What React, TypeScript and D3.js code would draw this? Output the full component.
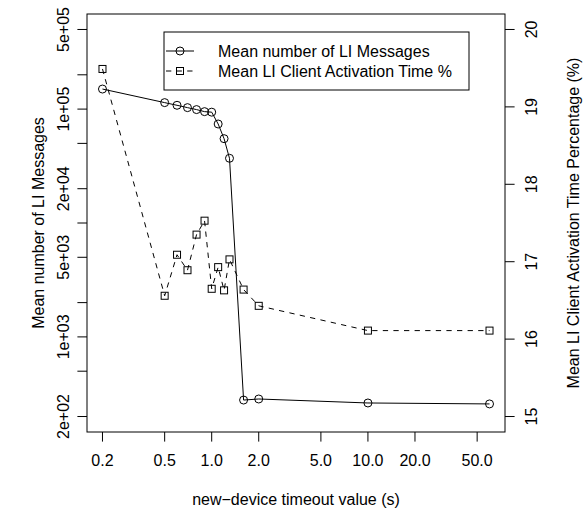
import React from "react";
import { scaleLog, scaleLinear, line } from "d3";

// new-device timeout (s)
const timeouts = [0.2, 0.5, 0.6, 0.7, 0.8, 0.9, 1.0, 1.1, 1.2, 1.3, 1.6, 2.0, 10, 60];
// mean number of LI messages (left, log axis)
const liMessages = [150000, 114000, 108000, 103000, 99000, 95000, 94000, 74000, 55000, 37000, 279, 285, 263, 258];
// mean LI client activation time % (right axis)
const activationPct = [19.49, 16.56, 17.09, 16.89, 17.35, 17.53, 16.65, 16.93, 16.63, 17.03, 16.64, 16.43, 16.11, 16.11];

const xTicks = [0.2, 0.5, 1, 2, 5, 10, 20, 50];
const leftTicks = [200, 500, 1000, 2000, 5000, 10000, 20000, 50000, 100000, 200000, 500000];
const leftLabelled = [200, 1000, 5000, 20000, 100000, 500000];
const rightTicks = [15, 16, 17, 18, 19, 20];

const seriesNames = ["Mean number of LI Messages", "Mean LI Client Activation Time %"];

const W = 584;
const H = 513;
const box = { left: 87, right: 505, top: 14, bottom: 432 };
const font = "'Liberation Sans', Arial, sans-serif";

// R-style 4% padding, in log space for log axes
const padLog = (a: number, b: number) => {
  const la = Math.log10(a), lb = Math.log10(b), d = (lb - la) * 0.04;
  return [Math.pow(10, la - d), Math.pow(10, lb + d)];
};
const padLin = (a: number, b: number) => {
  const d = (b - a) * 0.04;
  return [a - d, b + d];
};

const fmtExp = (v: number) => v.toExponential(0).replace(/e([+-])(\d)$/, "e$10$2");
const fmtX = (v: number) => v.toFixed(1);

export default function App() {
  const x = scaleLog().domain(padLog(0.2, 60)).range([box.left, box.right]);
  const yL = scaleLog().domain(padLog(200, 500000)).range([box.bottom, box.top]);
  const yR = scaleLinear().domain(padLin(15, 20)).range([box.bottom, box.top]);

  const pts1 = timeouts.map((t, i) => [x(t), yL(liMessages[i])] as [number, number]);
  const pts2 = timeouts.map((t, i) => [x(t), yR(activationPct[i])] as [number, number]);
  const path = line();

  const sq = 7;
  const dash = "5.3,5.3";

  const legX = 164, legY = 32, legW = 305, legH = 58;
  const rows = [legY + 19, legY + 39];

  return (
    <svg width={W} height={H} style={{ position: "absolute", left: 0, top: 0, background: "#fff" }}
      fontFamily={font} fontSize={16}>
      <rect x={0} y={0} width={W} height={H} fill="#fff" />

      {/* series */}
      <path d={path(pts1) || ""} fill="none" stroke="#000" strokeWidth={1} />
      <path d={path(pts2) || ""} fill="none" stroke="#000" strokeWidth={1} strokeDasharray={dash} />
      {pts1.map((p, i) => (
        <circle key={"c" + i} cx={p[0]} cy={p[1]} r={4} fill="none" stroke="#000" strokeWidth={1} />
      ))}
      {pts2.map((p, i) => (
        <rect key={"s" + i} x={p[0] - sq / 2} y={p[1] - sq / 2} width={sq} height={sq} fill="none" stroke="#000" strokeWidth={1} />
      ))}

      {/* plot box */}
      <rect x={box.left} y={box.top} width={box.right - box.left} height={box.bottom - box.top}
        fill="none" stroke="#000" strokeWidth={1} />

      {/* bottom axis */}
      {xTicks.map(t => (
        <g key={"x" + t}>
          <line x1={x(t)} x2={x(t)} y1={box.bottom} y2={box.bottom + 9.6} stroke="#000" />
          <text x={x(t)} y={460} textAnchor="middle" dominantBaseline="central">{fmtX(t)}</text>
        </g>
      ))}
      <text x={(box.left + box.right) / 2} y={499} textAnchor="middle" dominantBaseline="central">
        new−device timeout value (s)
      </text>

      {/* left axis */}
      {leftTicks.map(t => (
        <g key={"l" + t}>
          <line x1={box.left - 9.6} x2={box.left} y1={yL(t)} y2={yL(t)} stroke="#000" />
          {leftLabelled.includes(t) && (
            <text transform={`translate(63,${yL(t)}) rotate(-90)`} textAnchor="middle" dominantBaseline="central">
              {fmtExp(t)}
            </text>
          )}
        </g>
      ))}
      <text transform={`translate(38,${(box.top + box.bottom) / 2}) rotate(-90)`} textAnchor="middle" dominantBaseline="central">
        Mean number of LI Messages
      </text>

      {/* right axis */}
      {rightTicks.map(t => (
        <g key={"r" + t}>
          <line x1={box.right} x2={box.right + 9.6} y1={yR(t)} y2={yR(t)} stroke="#000" />
          <text transform={`translate(531,${yR(t)}) rotate(-90)`} textAnchor="middle" dominantBaseline="central">
            {t}
          </text>
        </g>
      ))}
      <text transform={`translate(573,${(box.top + box.bottom) / 2}) rotate(-90)`} textAnchor="middle" dominantBaseline="central">
        Mean LI Client Activation Time Percentage (%)
      </text>

      {/* legend */}
      <rect x={legX} y={legY} width={legW} height={legH} fill="#fff" stroke="#000" strokeWidth={1} />
      <line x1={166} x2={194} y1={rows[0]} y2={rows[0]} stroke="#000" />
      <circle cx={180} cy={rows[0]} r={4} fill="none" stroke="#000" />
      <line x1={166} x2={194} y1={rows[1]} y2={rows[1]} stroke="#000" strokeDasharray={dash} />
      <rect x={180 - sq / 2} y={rows[1] - sq / 2} width={sq} height={sq} fill="none" stroke="#000" />
      {seriesNames.map((s, i) => (
        <text key={s} x={218} y={rows[i]} dominantBaseline="central">{s}</text>
      ))}
    </svg>
  );
}
